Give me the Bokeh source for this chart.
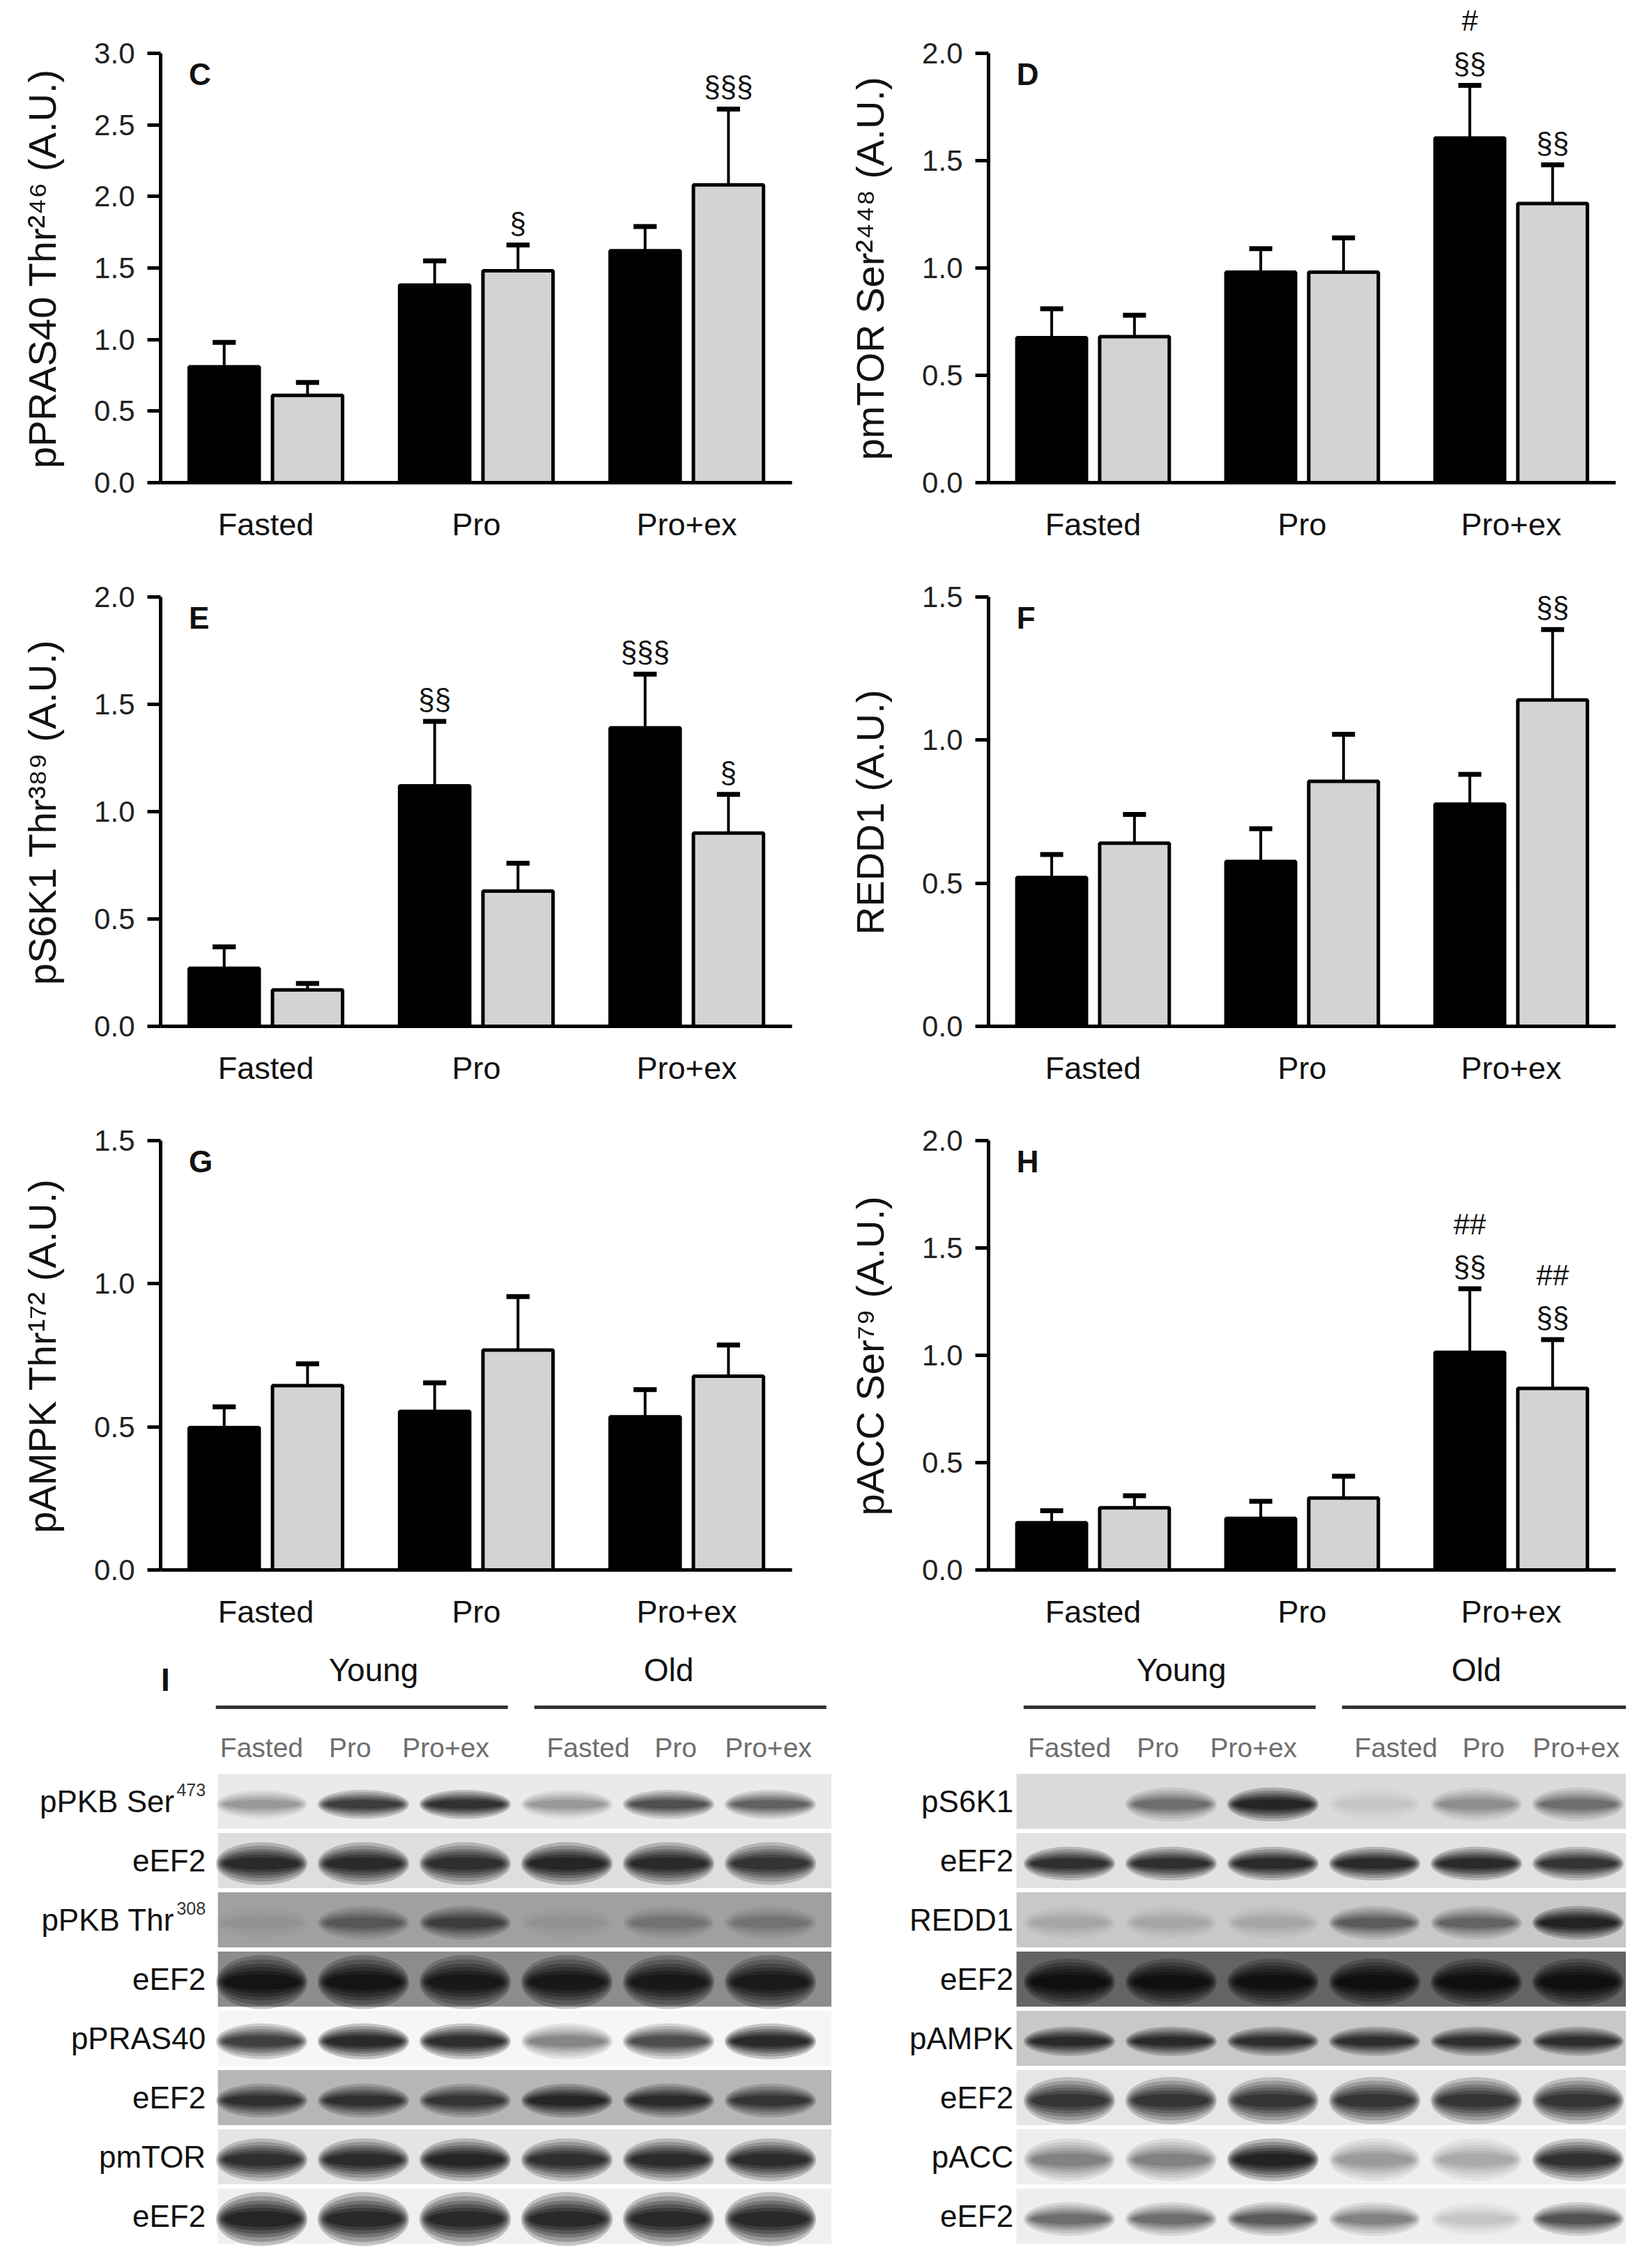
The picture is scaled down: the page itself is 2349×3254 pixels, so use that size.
import numpy as np
from bokeh.plotting import figure
from bokeh.layouts import column, row
from bokeh.models import Range1d, FixedTicker, NumeralTickFormatter, ColumnDataSource
from bokeh.core.properties import value
from bokeh.embed import file_html
from bokeh.resources import INLINE

FONT = "Liberation Sans"

categories = ["Fasted", "Pro", "Pro+ex"]

# bar panels: mean and SEM, young = black bars, old = grey bars
c_young = [0.81, 1.38, 1.62]
c_young_sem = [0.17, 0.17, 0.17]
c_old = [0.61, 1.48, 2.08]
c_old_sem = [0.09, 0.18, 0.53]
c_young_sig = ["", "", ""]
c_old_sig = ["", "§", "§§§"]

d_young = [0.675, 0.98, 1.605]
d_young_sem = [0.135, 0.11, 0.245]
d_old = [0.68, 0.98, 1.30]
d_old_sem = [0.10, 0.16, 0.18]
d_young_sig = ["", "", "#\n§§"]
d_old_sig = ["", "", "§§"]

e_young = [0.27, 1.12, 1.39]
e_young_sem = [0.10, 0.30, 0.25]
e_old = [0.17, 0.63, 0.90]
e_old_sem = [0.03, 0.13, 0.18]
e_young_sig = ["", "§§", "§§§"]
e_old_sig = ["", "", "§"]

f_young = [0.52, 0.576, 0.776]
f_young_sem = [0.08, 0.114, 0.104]
f_old = [0.64, 0.856, 1.14]
f_old_sem = [0.10, 0.164, 0.246]
f_young_sig = ["", "", ""]
f_old_sig = ["", "", "§§"]

g_young = [0.497, 0.554, 0.535]
g_young_sem = [0.073, 0.10, 0.095]
g_old = [0.644, 0.768, 0.677]
g_old_sem = [0.076, 0.187, 0.109]
g_young_sig = ["", "", ""]
g_old_sig = ["", "", ""]

h_young = [0.22, 0.24, 1.014]
h_young_sem = [0.056, 0.08, 0.296]
h_old = [0.29, 0.335, 0.846]
h_old_sem = [0.056, 0.102, 0.227]
h_young_sig = ["", "", "##\n§§"]
h_old_sig = ["", "", "##\n§§"]

# western blots: band darkness per lane (0 = none, 1 = black), strip grey level
lanes = ["Fasted", "Pro", "Pro+ex", "Fasted", "Pro", "Pro+ex"]
groups = ["Young", "Old"]

left_rows = ["pPKB Ser", "eEF2", "pPKB Thr", "eEF2", "pPRAS40", "eEF2", "pmTOR", "eEF2"]
left_sup = ["473", "", "308", "", "", "", "", ""]
left_bg = [234, 222, 160, 140, 246, 182, 228, 240]
left_bands = [
    [0.25, 0.75, 0.85, 0.25, 0.60, 0.50],
    [0.90, 0.90, 0.85, 0.95, 0.90, 0.80],
    [0.05, 0.35, 0.55, 0.05, 0.20, 0.20],
    [1.00, 1.00, 0.95, 0.95, 0.95, 0.90],
    [0.75, 0.95, 0.90, 0.35, 0.65, 0.95],
    [0.75, 0.75, 0.70, 0.85, 0.80, 0.70],
    [0.85, 0.90, 0.95, 0.85, 0.90, 0.90],
    [1.00, 0.95, 0.95, 0.95, 0.95, 0.95],
]

right_rows = ["pS6K1", "eEF2", "REDD1", "eEF2", "pAMPK", "eEF2", "pACC", "eEF2"]
right_sup = ["", "", "", "", "", "", "", ""]
right_bg = [218, 226, 200, 100, 200, 230, 238, 238]
right_bands = [
    [0.00, 0.40, 0.95, 0.05, 0.25, 0.40],
    [0.85, 0.85, 0.90, 0.90, 0.90, 0.80],
    [0.10, 0.10, 0.10, 0.45, 0.40, 0.95],
    [1.00, 0.95, 0.95, 1.00, 1.00, 1.00],
    [0.85, 0.85, 0.80, 0.80, 0.80, 0.80],
    [0.80, 0.80, 0.80, 0.80, 0.80, 0.80],
    [0.35, 0.35, 1.00, 0.25, 0.20, 0.85],
    [0.45, 0.45, 0.55, 0.35, 0.10, 0.60],
]


def bar_panel(letter, ylabel, ymax, young, young_sem, old, old_sem, young_sig, old_sig, left):
    if left:
        w, bl, br = 1167, 230, 31
    else:
        w, bl, br = 1166, 251, 15
    h = 780
    frame_top, tick_top, frame_bot = 0, 76, 693
    yend = ymax * (frame_bot - frame_top) / (frame_bot - tick_top)
    p = figure(width=w, height=h, x_range=Range1d(-0.5, 2.5), y_range=Range1d(0, yend),
               min_border_left=bl, min_border_right=br, min_border_top=frame_top,
               min_border_bottom=h - frame_bot, toolbar_location=None, tools="",
               output_backend="svg")
    p.outline_line_color = None
    p.grid.visible = False
    p.background_fill_color = "white"

    xs = np.arange(len(categories))
    off, bw = 0.198, 0.333
    for vals, sems, sig, dx, fill in [(young, young_sem, young_sig, -off, "black"),
                                      (old, old_sem, old_sig, off, "#d3d3d3")]:
        src = ColumnDataSource(dict(x=xs + dx, top=vals,
                                    up=np.array(vals) + np.array(sems), sig=sig))
        p.segment(x0="x", y0="top", x1="x", y1="up", source=src, line_color="black", line_width=4)
        p.segment(x0=xs + dx - 0.055, y0=src.data["up"], x1=xs + dx + 0.055, y1=src.data["up"],
                  line_color="black", line_width=7)
        p.vbar(x="x", top="top", bottom=0, width=bw, source=src, fill_color=fill,
               line_color="black", line_width=5)
        p.text(x="x", y="up", text="sig", source=src, text_align="center",
               text_baseline="bottom", y_offset=-8, text_font=value(FONT),
               text_font_size="42px", text_line_height=1.3, text_color="#111")

    p.text(x=[-0.366], y=[ymax], text=[letter], text_baseline="middle", y_offset=30,
           text_font=value(FONT), text_font_size="44px", text_font_style="bold",
           text_color="#111")

    yax = p.yaxis[0]
    yax.ticker = FixedTicker(ticks=list(np.arange(0, ymax + 0.01, 0.5)))
    yax.bounds = (0, ymax)
    yax.formatter = NumeralTickFormatter(format="0.0")
    yax.axis_line_width = 5
    yax.major_tick_line_width = 5
    yax.major_tick_out = 19
    yax.major_tick_in = 0
    yax.minor_tick_line_color = None
    yax.major_label_standoff = 18
    yax.major_label_text_font = FONT
    yax.major_label_text_font_size = "42px"
    yax.major_label_text_color = "#222"
    # trailing no-break spaces move the centred label down onto the 0..ymax span
    yax.axis_label = ylabel + "\u00a0" * 5
    yax.axis_label_text_font = FONT
    yax.axis_label_text_font_size = "56px"
    yax.axis_label_text_font_style = "normal"
    yax.axis_label_text_color = "#111"
    yax.axis_label_standoff = 40

    xax = p.xaxis[0]
    xax.ticker = FixedTicker(ticks=list(xs))
    xax.major_label_overrides = {int(i): c for i, c in enumerate(categories)}
    xax.axis_line_width = 5
    xax.major_tick_line_color = None
    xax.minor_tick_line_color = None
    xax.major_tick_out = 0
    xax.major_tick_in = 0
    xax.major_label_standoff = 34
    xax.major_label_text_font = FONT
    xax.major_label_text_font_size = "45px"
    xax.major_label_text_color = "#111"
    return p


pc = bar_panel("C", "pPRAS40 Thr²⁴⁶ (A.U.)", 3.0, c_young, c_young_sem, c_old, c_old_sem,
               c_young_sig, c_old_sig, True)
pd_ = bar_panel("D", "pmTOR Ser²⁴⁴⁸ (A.U.)", 2.0, d_young, d_young_sem, d_old, d_old_sem,
                d_young_sig, d_old_sig, False)
pe = bar_panel("E", "pS6K1 Thr³⁸⁹ (A.U.)", 2.0, e_young, e_young_sem, e_old, e_old_sem,
               e_young_sig, e_old_sig, True)
pf = bar_panel("F", "REDD1 (A.U.)", 1.5, f_young, f_young_sem, f_old, f_old_sem,
               f_young_sig, f_old_sig, False)
pg = bar_panel("G", "pAMPK Thr¹⁷² (A.U.)", 1.5, g_young, g_young_sem, g_old, g_old_sem,
               g_young_sig, g_old_sig, True)
ph = bar_panel("H", "pACC Ser⁷⁹ (A.U.)", 2.0, h_young, h_young_sem, h_old, h_old_sem,
               h_young_sig, h_old_sig, False)

# blot panel I, x in lane units, y in row units (rows run downwards)
bw_, bh_ = 2333, 890
blot = figure(width=bw_, height=bh_, x_range=Range1d(-2.568, -2.568 + bw_ / 146.0),
              y_range=Range1d(7.6, -2.871), min_border=0, toolbar_location=None, tools="",
              output_backend="svg")
blot.axis.visible = False
blot.grid.visible = False
blot.outline_line_color = None

band_thick_left = [0.26, 0.38, 0.30, 0.48, 0.32, 0.30, 0.38, 0.48]
band_thick_right = [0.30, 0.30, 0.30, 0.42, 0.26, 0.42, 0.38, 0.30]
lane_label_pos = [0.0, 0.87, 1.81, 3.21, 4.07, 4.98]
layers = [(1.00, 1.9, 0.22), (0.97, 1.6, 0.22), (0.94, 1.3, 0.24),
          (0.91, 1.05, 0.26), (0.87, 0.8, 0.3), (0.82, 0.55, 0.35)]

for off, strip, rows, sups, bg, bands, thick in [
        (0.0, (-0.43, 5.6), left_rows, left_sup, left_bg, left_bands, band_thick_left),
        (7.939, (-0.52, 5.47), right_rows, right_sup, right_bg, right_bands, band_thick_right)]:
    nrow = len(rows)
    ry = np.arange(nrow)
    blot.rect(x=off + (strip[0] + strip[1]) / 2, y=ry, width=strip[1] - strip[0], height=0.93,
              fill_color=["#%02x%02x%02x" % (g, g, g) for g in bg], line_color=None)
    bx, by, bi, bt = [], [], [], []
    for r in range(nrow):
        for l in range(len(lanes)):
            bx.append(off + l)
            by.append(r + 0.05)
            bi.append(bands[r][l])
            bt.append(thick[r])
    bx, by, bi, bt = map(np.array, (bx, by, bi, bt))
    for sw, sh, ak in layers:
        blot.ellipse(x=bx, y=by, width=0.9 * sw, height=bt * sh, fill_color="black",
                     fill_alpha=bi * ak, line_color=None)
    for r in range(nrow):
        sup_w = 15 * len(sups[r])
        blot.text(x=[off - 0.55], y=[r], text=[rows[r]], text_align="right",
                  text_baseline="middle", x_offset=-sup_w, text_font=value(FONT),
                  text_font_size="44px", text_color="#111")
        if sups[r]:
            blot.text(x=[off - 0.55], y=[r], text=[sups[r]], text_align="right",
                      text_baseline="middle", y_offset=-17, text_font=value(FONT),
                      text_font_size="25px", text_color="#333")
    blot.text(x=off + np.array(lane_label_pos), y=[-0.91] * len(lanes), text=lanes,
              text_align="center", text_baseline="middle", text_font=value(FONT),
              text_font_size="39px", text_color="#6e6e6e")
    blot.text(x=[off + 1.1, off + 4.0], y=[-2.22, -2.22], text=groups, text_align="center",
              text_baseline="middle", text_font=value(FONT), text_font_size="46px",
              text_color="#111")
    blot.segment(x0=[off - 0.45, off + 2.68], y0=[-1.59, -1.59], x1=[off + 2.42, off + 5.55],
                 y1=[-1.59, -1.59], line_color="#333", line_width=5)

blot.text(x=[-0.945], y=[-2.05], text=["I"], text_align="center", text_baseline="middle",
          text_font=value(FONT), text_font_size="46px", text_font_style="bold", text_color="#111")

layout = column(row(pc, pd_), row(pe, pf), row(pg, ph), blot)

open("out.html", "w").write(file_html(layout, INLINE))
